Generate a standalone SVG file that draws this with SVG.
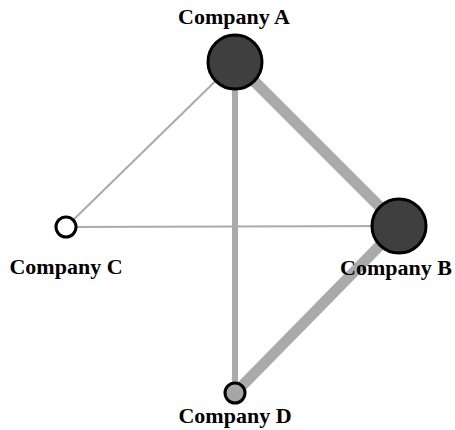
<svg xmlns="http://www.w3.org/2000/svg" width="455" height="430" viewBox="0 0 455 430">
  <style>
    .edge { stroke: #aaaaaa; stroke-linecap: butt; fill: none; }
    .node { stroke: #000000; stroke-width: 3; }
    .label { font-family: "Liberation Serif", "Times New Roman", serif; font-weight: bold; font-size: 22px; fill: #000000; text-anchor: middle; }
  </style>
  <rect width="455" height="430" fill="#ffffff"/>
  <g id="connectors">
    <line class="edge" x1="235" y1="62" x2="66" y2="227" stroke-width="2"/>
    <line class="edge" x1="66" y1="227" x2="399" y2="226" stroke-width="2"/>
    <line class="edge" x1="235" y1="62" x2="235" y2="393" stroke-width="6"/>
    <line class="edge" x1="235" y1="62" x2="399" y2="226" stroke-width="11"/>
    <line class="edge" x1="399" y1="226" x2="235" y2="393" stroke-width="11"/>
  </g>
  <g id="company-a">
    <circle class="node" cx="235" cy="62" r="27" fill="#3f3f3f"/>
    <text class="label" x="234" y="24">Company A</text>
  </g>
  <g id="company-b">
    <circle class="node" cx="399" cy="226" r="27" fill="#3f3f3f"/>
    <text class="label" x="396" y="275">Company B</text>
  </g>
  <g id="company-c">
    <circle class="node" cx="66" cy="227" r="10" fill="#ffffff"/>
    <text class="label" x="66" y="274">Company C</text>
  </g>
  <g id="company-d">
    <circle class="node" cx="235" cy="393" r="10" fill="#a6a6a6"/>
    <text class="label" x="235" y="423">Company D</text>
  </g>
</svg>
